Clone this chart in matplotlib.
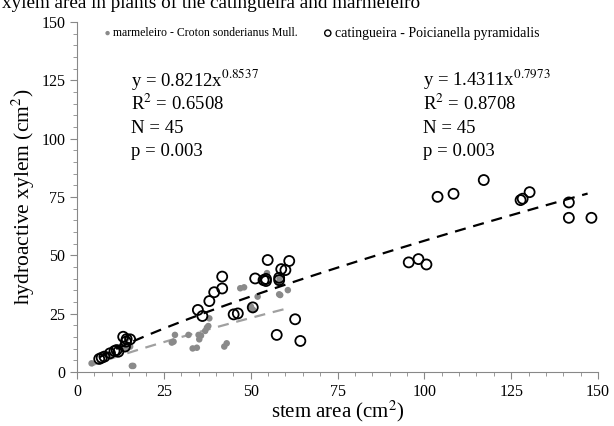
import numpy as np
import matplotlib
matplotlib.use('Agg')
import matplotlib.pyplot as plt
from matplotlib.ticker import MultipleLocator

plt.rcParams['font.family'] = ['Liberation Serif', 'DejaVu Serif']
plt.rcParams['mathtext.fontset'] = 'stix'

# catingueira - Poicianella pyramidalis (open circles)
cat_x = [6.4, 7.1, 7.9, 9.5, 10.8, 11.4, 11.9, 13.3, 14.3, 15.3, 14.1, 13.8,
         54.9, 61.1, 58.8, 60.0, 54.4, 54.4, 58.2, 58.2, 51.3, 53.7, 41.8, 41.8,
         39.5, 38.1, 34.8, 36.1, 45.1, 46.3, 50.6, 62.8, 57.5, 64.3,
         95.5, 98.3, 100.6, 103.8, 108.4, 117.1, 127.7, 128.3, 130.3, 141.6,
         141.6, 148.1]
cat_y = [5.6, 6.1, 6.6, 8.0, 9.0, 9.4, 8.7, 15.1, 14.1, 14.0, 13.0, 10.9,
         48.0, 47.6, 44.1, 43.7, 39.9, 39.0, 40.4, 39.4, 40.1, 39.4, 40.9, 35.8,
         34.2, 30.4, 26.6, 24.0, 24.7, 25.1, 27.7, 22.6, 15.9, 13.3,
         47.0, 48.4, 46.1, 75.1, 76.4, 82.3, 73.7, 74.3, 77.1, 72.7,
         66.1, 66.1]

# marmeleiro - Croton sonderianus Mull. (grey dots)
mar_x = [4.2, 8.6, 10.0, 12.7, 14.3, 14.4, 15.3, 15.8, 16.2,
         27.3, 27.8, 28.2, 32.1, 33.3, 34.5, 35.0, 35.2, 35.7, 36.9, 37.4, 37.8,
         38.1, 42.4, 43.1, 47.0, 48.1, 50.1, 50.7, 52.0, 54.7, 58.0, 58.2,
         58.3, 58.5, 60.7]
mar_y = [3.7, 7.3, 7.3, 10.9, 10.0, 14.6, 10.9, 2.6, 2.6,
         12.6, 13.0, 15.9, 15.9, 10.1, 10.4, 15.9, 14.0, 15.6, 17.6, 19.0, 19.7,
         23.0, 10.9, 12.3, 35.9, 36.3, 28.0, 26.6, 32.3, 42.4, 38.3, 33.3,
         40.1, 33.0, 35.1]

# power fits shown on the chart
mar_a, mar_b = 0.8212, 0.8537
cat_a, cat_b = 1.4311, 0.7973

fig = plt.figure(figsize=(6.14, 4.26), dpi=100)
ax = fig.add_axes([0.1254, 0.1268, 0.8486, 0.8212])

ax.scatter(mar_x, mar_y, s=22, color='#8a8a8a', edgecolors='none', zorder=2)
ax.scatter(cat_x, cat_y, s=52, facecolors='none', edgecolors='black',
           linewidths=1.3, zorder=3)

xm = np.linspace(min(mar_x), max(mar_x), 50)
ax.plot(xm, mar_a * xm ** mar_b, ls=(0, (5, 3.5)), color='#a0a0a0', lw=1.6, zorder=1)
xc = np.linspace(min(cat_x), 147, 50)
ax.plot(xc, cat_a * xc ** cat_b, ls=(0, (5, 3.5)), color='black', lw=1.6, zorder=4)

ax.set_xlim(0, 150)
ax.set_ylim(0, 150)
ax.xaxis.set_major_locator(MultipleLocator(25))
ax.xaxis.set_minor_locator(MultipleLocator(5))
ax.yaxis.set_major_locator(MultipleLocator(25))
ax.yaxis.set_minor_locator(MultipleLocator(5))
for s in ['top', 'right']:
    ax.spines[s].set_visible(False)
for s in ['left', 'bottom']:
    ax.spines[s].set_color('#888888')
ax.tick_params(which='major', length=5, color='#888888', labelsize=11.5)
ax.tick_params(which='minor', length=3, color='#888888')

ax.set_xlabel('stem area (cm$^2$)', fontsize=15, labelpad=-1)
ax.set_ylabel('hydroactive xylem (cm$^2$)', fontsize=15.5, labelpad=3)

# equations
tk = dict(fontsize=13.5, transform=ax.transData, va='baseline')
rows = [122.5, 112.5, 102.5, 92.5]
ax.text(15.6, rows[0], 'y = 0.8212x$^{0.8537}$', **tk)
ax.text(15.6, rows[1], 'R$^2$ = 0.6508', **tk)
ax.text(15.6, rows[2], 'N = 45', **tk)
ax.text(15.6, rows[3], 'p = 0.003', **tk)
ax.text(99.7, rows[0], 'y = 1.4311x$^{0.7973}$', **tk)
ax.text(99.7, rows[1], 'R$^2$ = 0.8708', **tk)
ax.text(99.7, rows[2], 'N = 45', **tk)
ax.text(99.7, rows[3], 'p = 0.003', **tk)

# legend
ax.scatter([8.8], [145.3], s=10, color='#8a8a8a', edgecolors='none', clip_on=False)
ax.text(10.3, 145.3, 'marmeleiro - Croton sonderianus Mull.', fontsize=8.5, va='center')
ax.scatter([72.2], [145.3], s=20, facecolors='none', edgecolors='black',
           linewidths=1.0, clip_on=False)
ax.text(74.2, 145.3, 'catingueira - Poicianella pyramidalis', fontsize=10, va='center')

fig.text(0.003, 1 - 8 / 426, 'xylem area in plants of the catingueira and marmeleiro',
         fontsize=13.8, va='baseline')

fig.savefig('out.png', dpi=100)
